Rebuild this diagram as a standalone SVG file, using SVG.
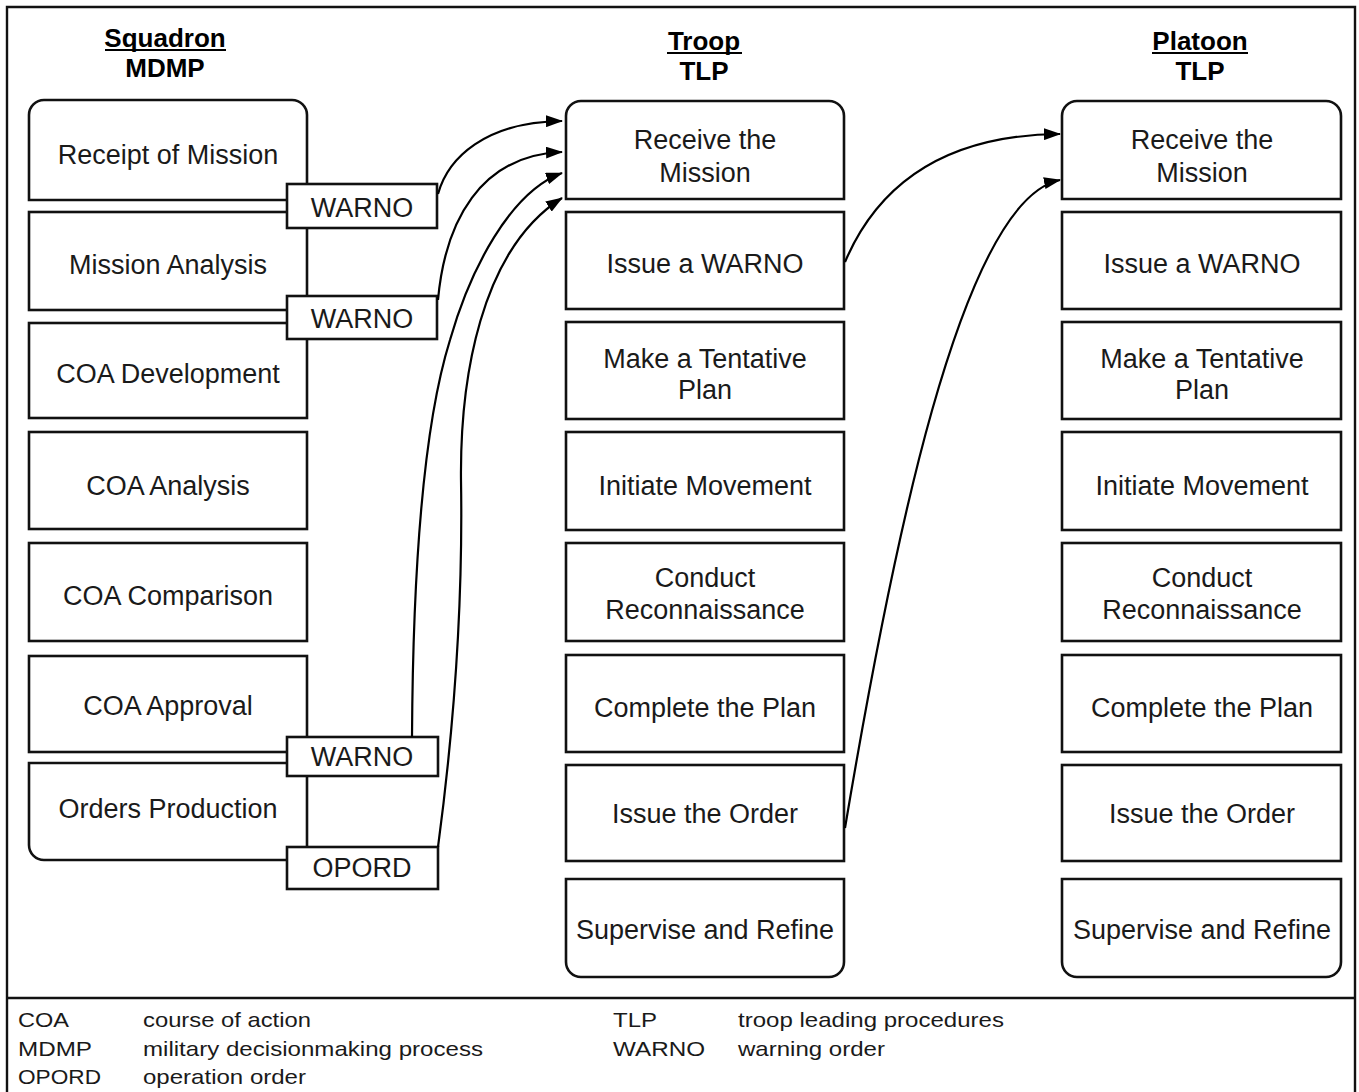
<svg xmlns="http://www.w3.org/2000/svg" width="1359" height="1092" viewBox="0 0 1359 1092">
<defs>
<style>
.box{fill:#fff;stroke:#111;stroke-width:2.6}
.lbl{fill:#1a1a1a;font-family:"Liberation Sans",Arial,sans-serif;font-size:27px;text-anchor:middle}
.hdr{fill:#000;font-family:"Liberation Sans",Arial,sans-serif;font-size:26px;font-weight:bold;text-anchor:middle}
.leg{fill:#1a1a1a;font-family:"Liberation Sans",Arial,sans-serif;font-size:21px}
.con{fill:none;stroke:#000;stroke-width:2.2}
.frame{fill:none;stroke:#111;stroke-width:2.4}
</style>
<marker id="arr" markerUnits="userSpaceOnUse" markerWidth="18" markerHeight="12" refX="16" refY="6" orient="auto">
<path d="M0,0 L17,6 L0,12 Z" fill="#000"/>
</marker>
</defs>
<rect width="1359" height="1092" fill="#fff"/>
<path class="frame" d="M7,1092 V7 H1355 V1092"/>
<line class="frame" x1="7" y1="998" x2="1355" y2="998"/>

<g id="headers">
<text class="hdr" x="165" y="47">Squadron</text>
<line x1="105" y1="50" x2="226" y2="50" stroke="#000" stroke-width="2.2"/>
<text class="hdr" x="165" y="77">MDMP</text>
<text class="hdr" x="704" y="50">Troop</text>
<line x1="667" y1="53" x2="742" y2="53" stroke="#000" stroke-width="2.2"/>
<text class="hdr" x="704" y="80">TLP</text>
<text class="hdr" x="1200" y="50">Platoon</text>
<line x1="1152" y1="53" x2="1248" y2="53" stroke="#000" stroke-width="2.2"/>
<text class="hdr" x="1200" y="80">TLP</text>
</g>

<!-- Squadron column -->
<g id="sq-receipt"><path class="box" d="M29,200 V115 A15,15 0 0 1 44,100 H292 A15,15 0 0 1 307,115 V200 Z"/><text class="lbl" x="168" y="164">Receipt of Mission</text></g>
<g id="sq-analysis"><rect class="box" x="29" y="212" width="278" height="98"/><text class="lbl" x="168" y="274">Mission Analysis</text></g>
<g id="sq-coadev"><rect class="box" x="29" y="323" width="278" height="95"/><text class="lbl" x="168" y="383">COA Development</text></g>
<g id="sq-coaanalysis"><rect class="box" x="29" y="432" width="278" height="97"/><text class="lbl" x="168" y="495">COA Analysis</text></g>
<g id="sq-coacomp"><rect class="box" x="29" y="543" width="278" height="98"/><text class="lbl" x="168" y="605">COA Comparison</text></g>
<g id="sq-coaappr"><rect class="box" x="29" y="656" width="278" height="96"/><text class="lbl" x="168" y="715">COA Approval</text></g>
<g id="sq-orders"><path class="box" d="M29,763 H307 V860 H44 A15,15 0 0 1 29,845 Z"/><text class="lbl" x="168" y="818">Orders Production</text></g>

<g id="warno1"><rect class="box" x="287" y="184" width="150" height="44"/><text class="lbl" x="362" y="217">WARNO</text></g>
<g id="warno2"><rect class="box" x="287" y="296" width="150" height="43"/><text class="lbl" x="362" y="328">WARNO</text></g>
<g id="warno3"><rect class="box" x="287" y="737" width="151" height="39"/><text class="lbl" x="362" y="766">WARNO</text></g>
<g id="opord"><rect class="box" x="287" y="847" width="151" height="42"/><text class="lbl" x="362" y="877">OPORD</text></g>

<!-- Troop column -->
<g id="tr-receive"><path class="box" d="M566,199 V116 A15,15 0 0 1 581,101 H829 A15,15 0 0 1 844,116 V199 Z"/><text class="lbl" x="705" y="149">Receive the</text><text class="lbl" x="705" y="182">Mission</text></g>
<g id="tr-warno"><rect class="box" x="566" y="212" width="278" height="97"/><text class="lbl" x="705" y="273">Issue a WARNO</text></g>
<g id="tr-plan"><rect class="box" x="566" y="322" width="278" height="97"/><text class="lbl" x="705" y="368">Make a Tentative</text><text class="lbl" x="705" y="399">Plan</text></g>
<g id="tr-move"><rect class="box" x="566" y="432" width="278" height="98"/><text class="lbl" x="705" y="495">Initiate Movement</text></g>
<g id="tr-recon"><rect class="box" x="566" y="543" width="278" height="98"/><text class="lbl" x="705" y="587">Conduct</text><text class="lbl" x="705" y="619">Reconnaissance</text></g>
<g id="tr-complete"><rect class="box" x="566" y="655" width="278" height="97"/><text class="lbl" x="705" y="717">Complete the Plan</text></g>
<g id="tr-order"><rect class="box" x="566" y="765" width="278" height="96"/><text class="lbl" x="705" y="823">Issue the Order</text></g>
<g id="tr-supervise"><path class="box" d="M566,879 H844 V962 A15,15 0 0 1 829,977 H581 A15,15 0 0 1 566,962 Z"/><text class="lbl" x="705" y="939">Supervise and Refine</text></g>

<!-- Platoon column -->
<g id="pl-receive"><path class="box" d="M1062,199 V116 A15,15 0 0 1 1077,101 H1326 A15,15 0 0 1 1341,116 V199 Z"/><text class="lbl" x="1202" y="149">Receive the</text><text class="lbl" x="1202" y="182">Mission</text></g>
<g id="pl-warno"><rect class="box" x="1062" y="212" width="279" height="97"/><text class="lbl" x="1202" y="273">Issue a WARNO</text></g>
<g id="pl-plan"><rect class="box" x="1062" y="322" width="279" height="97"/><text class="lbl" x="1202" y="368">Make a Tentative</text><text class="lbl" x="1202" y="399">Plan</text></g>
<g id="pl-move"><rect class="box" x="1062" y="432" width="279" height="98"/><text class="lbl" x="1202" y="495">Initiate Movement</text></g>
<g id="pl-recon"><rect class="box" x="1062" y="543" width="279" height="98"/><text class="lbl" x="1202" y="587">Conduct</text><text class="lbl" x="1202" y="619">Reconnaissance</text></g>
<g id="pl-complete"><rect class="box" x="1062" y="655" width="279" height="97"/><text class="lbl" x="1202" y="717">Complete the Plan</text></g>
<g id="pl-order"><rect class="box" x="1062" y="765" width="279" height="96"/><text class="lbl" x="1202" y="823">Issue the Order</text></g>
<g id="pl-supervise"><path class="box" d="M1062,879 H1341 V962 A15,15 0 0 1 1326,977 H1077 A15,15 0 0 1 1062,962 Z"/><text class="lbl" x="1202" y="939">Supervise and Refine</text></g>

<g id="connectors">
<path class="con" marker-end="url(#arr)" d="M438,194 C448,158 485,122 562,121"/>
<path class="con" marker-end="url(#arr)" d="M438,300 C445,222 480,155 562,152"/>
<path class="con" marker-end="url(#arr)" d="M412,737 C413,560 425,420 450,340 C470,270 510,192 562,173"/>
<path class="con" marker-end="url(#arr)" d="M438,847 C455,720 463,600 461,480 C460,380 480,250 562,198"/>
<path class="con" marker-end="url(#arr)" d="M845,262 C880,180 950,135 1060,134"/>
<path class="con" marker-end="url(#arr)" d="M845,828 C890,560 960,200 1060,180"/>
</g>

<g id="legend">
<text class="leg" x="18" y="1027" textLength="51" lengthAdjust="spacingAndGlyphs">COA</text>
<text class="leg" x="143" y="1027" textLength="168" lengthAdjust="spacingAndGlyphs">course of action</text>
<text class="leg" x="18" y="1056" textLength="74" lengthAdjust="spacingAndGlyphs">MDMP</text>
<text class="leg" x="143" y="1056" textLength="340" lengthAdjust="spacingAndGlyphs">military decisionmaking process</text>
<text class="leg" x="18" y="1084" textLength="83" lengthAdjust="spacingAndGlyphs">OPORD</text>
<text class="leg" x="143" y="1084" textLength="163" lengthAdjust="spacingAndGlyphs">operation order</text>
<text class="leg" x="613" y="1027" textLength="44" lengthAdjust="spacingAndGlyphs">TLP</text>
<text class="leg" x="738" y="1027" textLength="266" lengthAdjust="spacingAndGlyphs">troop leading procedures</text>
<text class="leg" x="613" y="1056" textLength="92" lengthAdjust="spacingAndGlyphs">WARNO</text>
<text class="leg" x="738" y="1056" textLength="147" lengthAdjust="spacingAndGlyphs">warning order</text>
</g>
</svg>
